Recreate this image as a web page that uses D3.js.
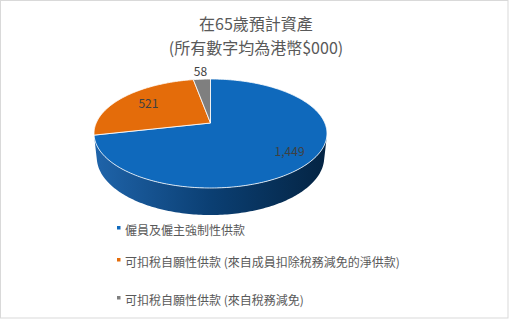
<!DOCTYPE html>
<html>
<head>
<meta charset="utf-8">
<script src="https://cdn.jsdelivr.net/npm/d3@7"></script>
<style>
  html, body { margin: 0; padding: 0; background: #fff; }
  svg { display: block; }
  text { font-family: "Noto Sans CJK TC", "Noto Sans", sans-serif; }
</style>
</head>
<body>
<svg id="chart" width="509" height="319"></svg>
<script>
// Projected assets at age 65 (HK$000)
const titleLines = ["在65歲預計資產", "(所有數字均為港幣$000)"];
const categories = [
  "僱員及僱主強制性供款",
  "可扣稅自願性供款 (來自成員扣除稅務減免的淨供款)",
  "可扣稅自願性供款 (來自稅務減免)"
];
const values = [1449, 521, 58];

const palette = ["#0F69BC", "#E46C0A", "#7F7F7F"];
const sideStops = [["#1F64AA", 0], ["#0B3F73", 0.5], ["#042443", 1]];

const svg = d3.select("#chart");
const W = 509, H = 319;

// chart border
svg.append("rect")
  .attr("x", 0.5).attr("y", 0.5)
  .attr("width", W - 1.5).attr("height", H - 1.5)
  .attr("fill", "#fff").attr("stroke", "#D9D9D9");

// title
svg.selectAll("text.title").data(titleLines).join("text")
  .attr("class", "title")
  .attr("x", 256).attr("y", (d, i) => 30 + i * 24)
  .attr("text-anchor", "middle")
  .attr("font-size", 16)
  .attr("fill", "#595959")
  .text(d => d);

// 3D pie with perspective projection
const cx = 210.5, cy = 123;      // screen position of the pie centre
const scaleW = 114.3;            // screen half-width at the centre depth
const tilt = Math.asin(0.459);   // viewing elevation
const persp = 0.217;             // radius / camera distance
const thick = 0.236;             // thickness / radius
const cosT = Math.cos(tilt), sinT = Math.sin(tilt);

// world (x right, y up, z far) in radius units -> screen
function project(x, y, z) {
  const d = 1 + persp * (z * cosT - y * sinT);
  return [cx + scaleW * x / d, cy - scaleW * (y * cosT + z * sinT) / d];
}
function rim(a, r, y) { return project(r * Math.sin(a), y, r * Math.cos(a)); }
function samples(a0, a1) {
  const n = Math.max(2, Math.ceil(Math.abs(a1 - a0) / (Math.PI / 180)));
  return d3.range(n + 1).map(i => a0 + (a1 - a0) * i / n);
}

const pie = d3.pie().sort(null).value(d => d)(values);
const line = d3.line().curve(d3.curveLinearClosed);

// side wall is visible where the wall faces the camera
const visLimit = Math.acos(-persp / cosT);       // ~104 deg
const vis0 = visLimit, vis1 = 2 * Math.PI - visLimit;

const defs = svg.append("defs");
const left = rim(-Math.acos(-persp * cosT), 1, 0)[0];
const right = rim(Math.acos(-persp * cosT), 1, 0)[0];
const grad = defs.append("linearGradient")
  .attr("id", "sideGrad").attr("gradientUnits", "userSpaceOnUse")
  .attr("x1", left).attr("x2", right).attr("y1", 0).attr("y2", 0);
grad.selectAll("stop").data(sideStops).join("stop")
  .attr("offset", d => d[1]).attr("stop-color", d => d[0]);

const gSide = svg.append("g");
pie.forEach((p, i) => {
  const a0 = Math.max(p.startAngle, vis0), a1 = Math.min(p.endAngle, vis1);
  if (a1 <= a0) return;
  const top = samples(a0, a1).map(a => rim(a, 1, 0));
  const bottom = samples(a1, a0).map(a => rim(a, 1, -thick));
  gSide.append("path")
    .attr("d", line(top.concat(bottom)))
    .attr("fill", i === 0 ? "url(#sideGrad)" : palette[i]);
});

const gTop = svg.append("g");
gTop.selectAll("path").data(pie).join("path")
  .attr("d", p => line([project(0, 0, 0)].concat(samples(p.startAngle, p.endAngle).map(a => rim(a, 1, 0)))))
  .attr("fill", (p, i) => palette[i])
  .attr("stroke", "#fff")
  .attr("stroke-width", 0.8)
  .attr("stroke-linejoin", "round");

// value labels
const labelRadius = [0.8, 0.7, 1.2];
const fmt = d3.format(",");
svg.append("g").selectAll("text").data(pie).join("text")
  .attr("transform", (p, i) => {
    const m = (p.startAngle + p.endAngle) / 2;
    const pt = rim(m, labelRadius[i], 0);
    return `translate(${pt[0]},${pt[1]})`;
  })
  .attr("text-anchor", "middle")
  .attr("dy", "0.36em")
  .attr("font-size", 12)
  .attr("fill", "#404040")
  .text(p => fmt(p.value));

// legend
const legendY = [230, 262, 300];
const legend = svg.append("g").selectAll("g").data(categories).join("g")
  .attr("transform", (d, i) => `translate(117,${legendY[i]})`);
legend.append("rect")
  .attr("x", 0).attr("y", -4).attr("width", 3.5).attr("height", 3.5)
  .attr("fill", (d, i) => palette[i]);
legend.append("text")
  .attr("x", 8).attr("y", 4.5)
  .attr("font-size", 12)
  .attr("fill", "#595959")
  .text(d => d);
</script>
</body>
</html>
